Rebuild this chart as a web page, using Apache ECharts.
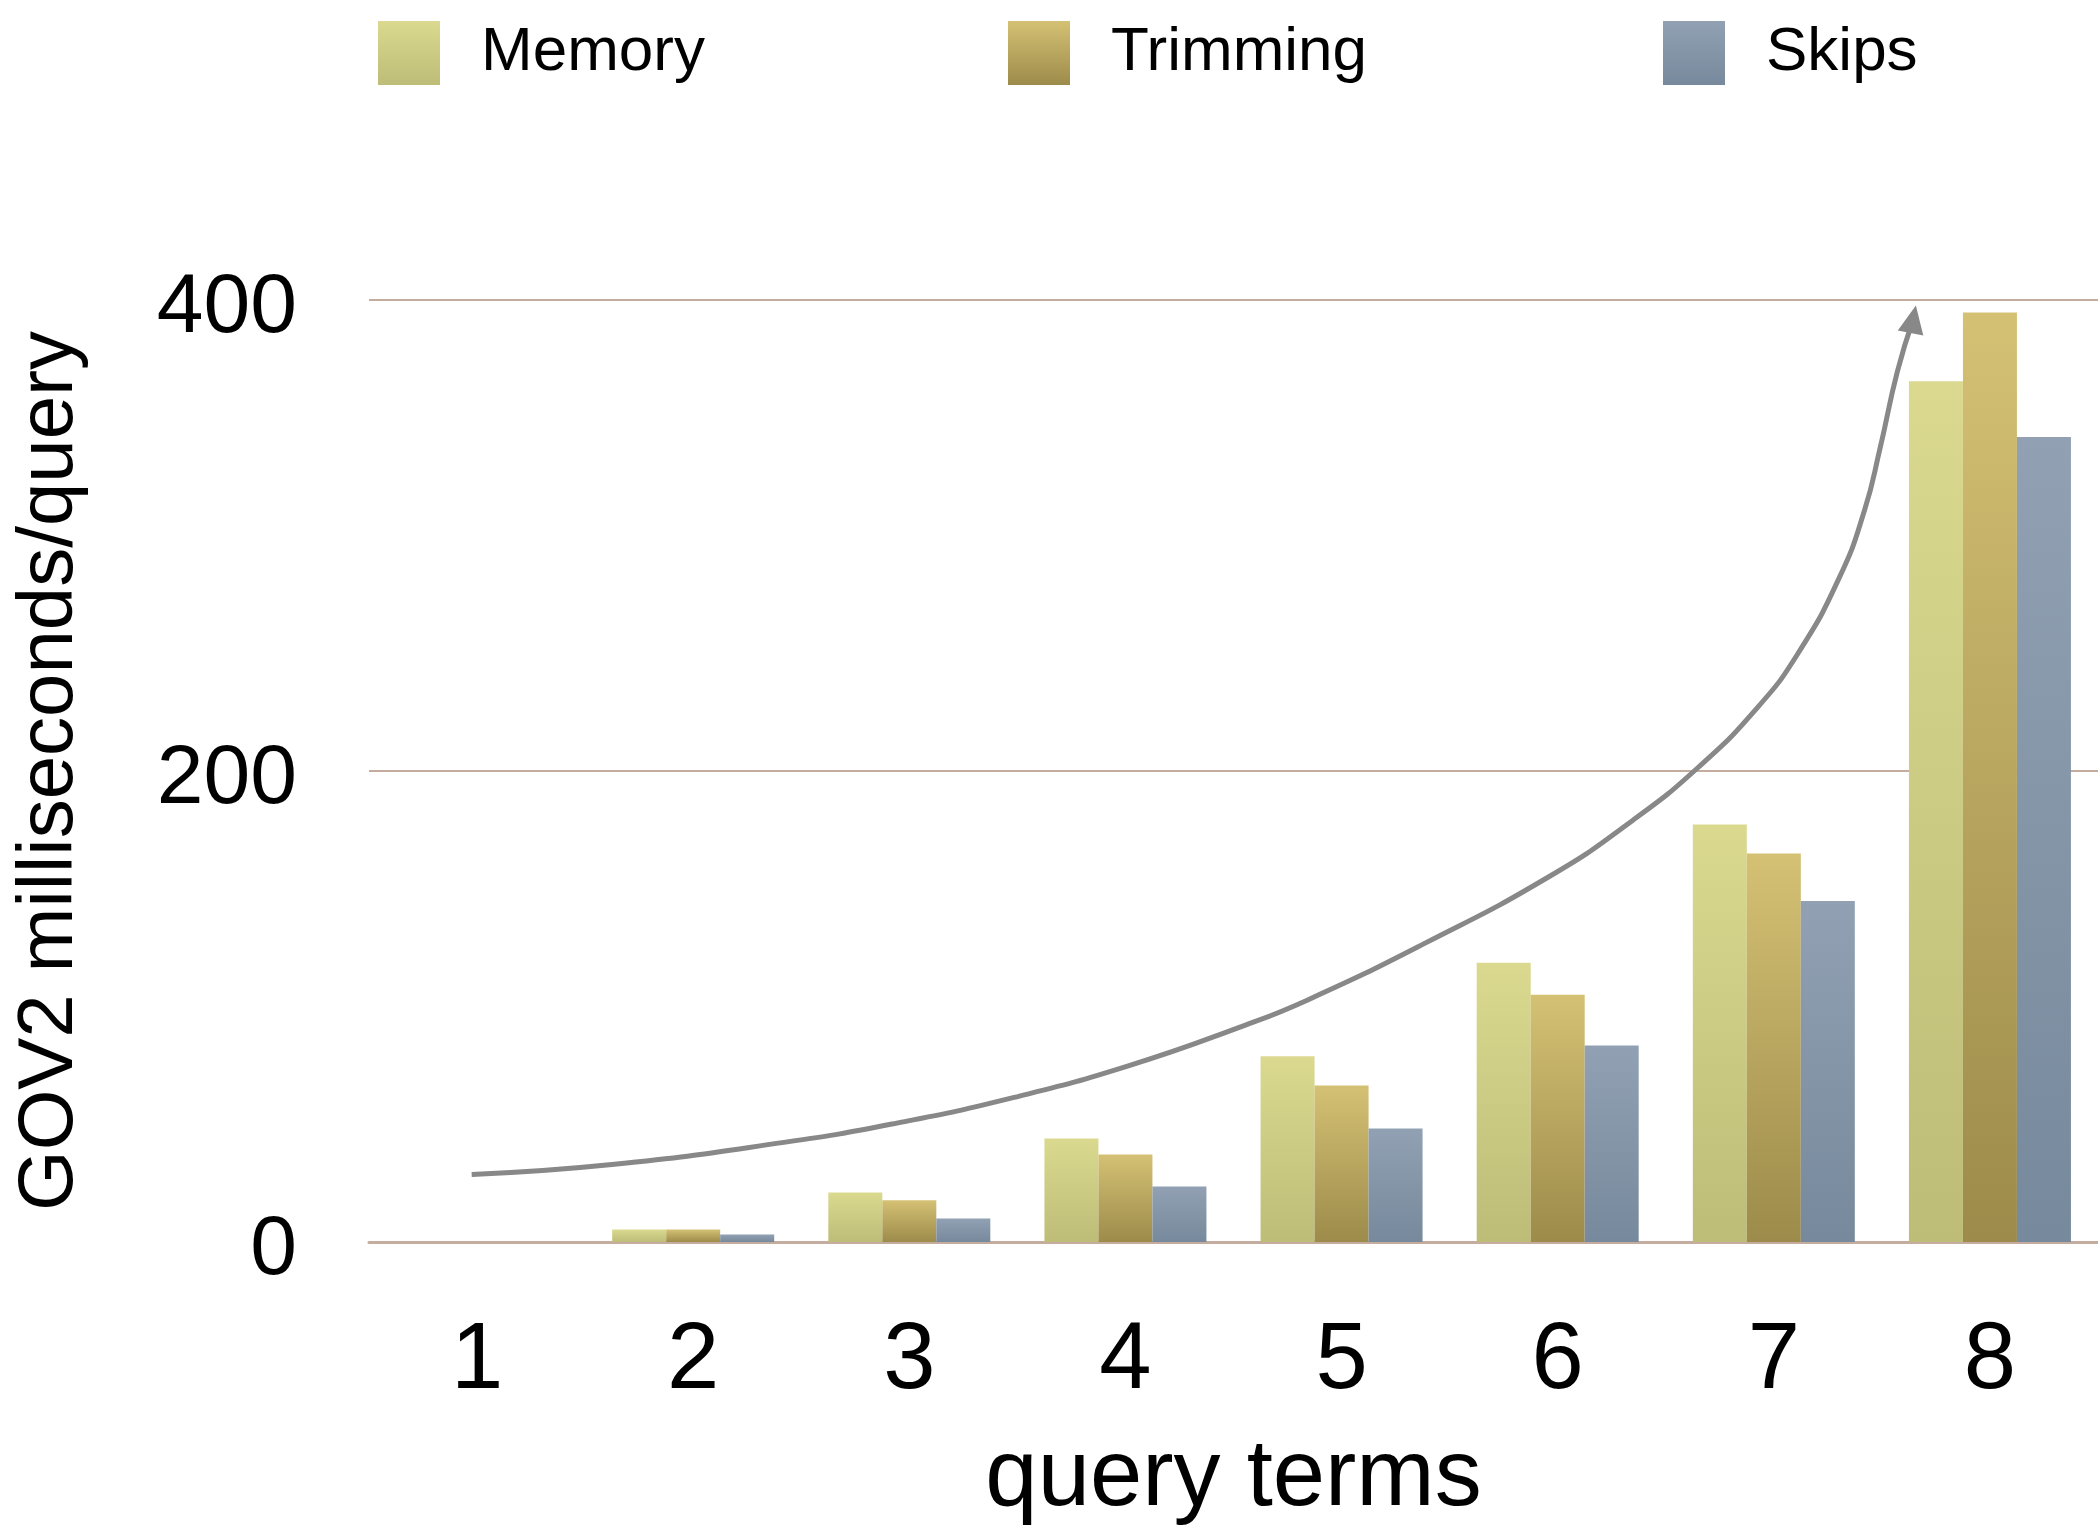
<!DOCTYPE html>
<html>
<head>
<meta charset="utf-8">
<script src="https://cdn.jsdelivr.net/npm/echarts@6/dist/echarts.min.js"></script>
<style>
  html, body { margin: 0; padding: 0; background: #fff; }
  #chart { width: 2098px; height: 1533px; }
</style>
</head>
<body>
<div id="chart"></div>
<script>
// 数据
var categories = ['1', '2', '3', '4', '5', '6', '7', '8'];
var memoryData = [0, 5.3, 21.0, 44.0, 78.9, 118.6, 177.3, 365.5];
var trimmingData = [0, 5.3, 17.7, 37.2, 66.5, 105.0, 165.0, 394.7];
var skipsData = [0, 3.2, 10.0, 23.6, 48.2, 83.4, 144.8, 341.8];
var yTicks = [0, 200, 400];
// 趋势箭头 (x: query terms, y: ms)
var trendX = [0.975, 1.624, 2.420, 2.953, 3.485, 4.017, 4.549, 4.846, 5.382, 5.961, 6.345, 6.651, 6.919, 7.111, 7.303, 7.419, 7.492, 7.571, 7.645];
var trendY = [28.7, 32.9, 42.3, 50.7, 61.4, 74.9, 91.9, 102.9, 126.7, 155.2, 178.9, 201.6, 226.4, 249.8, 282.1, 310.5, 337.2, 369.4, 391.8];

var font = '"Liberation Sans", Arial, Helvetica, sans-serif';
var narrow = '"Liberation Sans Narrow", "Liberation Sans", Arial, sans-serif';

function grad(top, bottom) {
    return new echarts.graphic.LinearGradient(0, 0, 0, 1, [
        { offset: 0, color: top },
        { offset: 1, color: bottom }
    ]);
}

var trendData = trendX.map(function (x, i) {
    if (i === trendX.length - 1) {
        return { value: [x, trendY[i]], symbol: 'triangle', symbolSize: [26, 28], symbolRotate: -11 };
    }
    return { value: [x, trendY[i]], symbol: 'none' };
});

function legendAt(name, left) {
    return {
        data: [name],
        left: left,
        top: 16,
        icon: 'rect',
        itemWidth: 62,
        itemHeight: 64,
        selectedMode: false,
        textStyle: { fontFamily: font, fontSize: 62, color: '#000', padding: [0, 0, 0, 36] }
    };
}

var myChart = echarts.init(document.getElementById('chart'));
var option = {
    animation: false,
    backgroundColor: '#fff',
    legend: [
        legendAt('Memory', 373),
        legendAt('Trimming', 1003),
        legendAt('Skips', 1658)
    ],
    grid: { left: 369, right: 0, top: 300, bottom: 291, containLabel: false, outerBoundsMode: 'none' },
    xAxis: [{
        type: 'category',
        data: categories,
        name: 'query terms',
        nameLocation: 'middle',
        nameGap: 190,
        nameTextStyle: { fontFamily: font, fontSize: 94, color: '#000' },
        axisLine: { lineStyle: { color: '#c4ac9e', width: 3 } },
        axisTick: { show: false },
        axisLabel: { fontFamily: narrow, fontSize: 94, color: '#000', margin: 73 }
    }, {
        type: 'value',
        min: 0.5,
        max: 8.5,
        show: false
    }],
    yAxis: {
        type: 'value',
        min: yTicks[0],
        max: yTicks[yTicks.length - 1],
        interval: 200,
        name: 'GOV2 milliseconds/query',
        nameLocation: 'middle',
        nameGap: 280,
        nameTextStyle: { fontFamily: font, fontSize: 78, color: '#000' },
        axisLine: { show: false },
        axisTick: { show: false },
        axisLabel: {
            margin: 72,
            formatter: '{t|{value}}',
            rich: { t: { fontFamily: font, fontSize: 84, color: '#000', padding: [18, 0, 0, 0] } }
        },
        splitLine: { lineStyle: { color: '#c4ac9e', width: 2 } }
    },
    series: [{
        name: 'Memory',
        type: 'bar',
        data: memoryData,
        barWidth: 54,
        barGap: '0%',
        itemStyle: { color: grad('#dad98f', '#bdbd78') }
    }, {
        name: 'Trimming',
        type: 'bar',
        data: trimmingData,
        barWidth: 54,
        barGap: '0%',
        itemStyle: { color: grad('#d4c174', '#9d8b4b') }
    }, {
        name: 'Skips',
        type: 'bar',
        data: skipsData,
        barWidth: 54,
        barGap: '0%',
        itemStyle: { color: grad('#91a1b3', '#77899c') }
    }, {
        name: 'trend',
        type: 'line',
        xAxisIndex: 1,
        data: trendData,
        smooth: true,
        showSymbol: true,
        z: 5,
        lineStyle: { color: '#888888', width: 5 },
        itemStyle: { color: '#888888' }
    }]
};
myChart.setOption(option);
</script>
</body>
</html>
